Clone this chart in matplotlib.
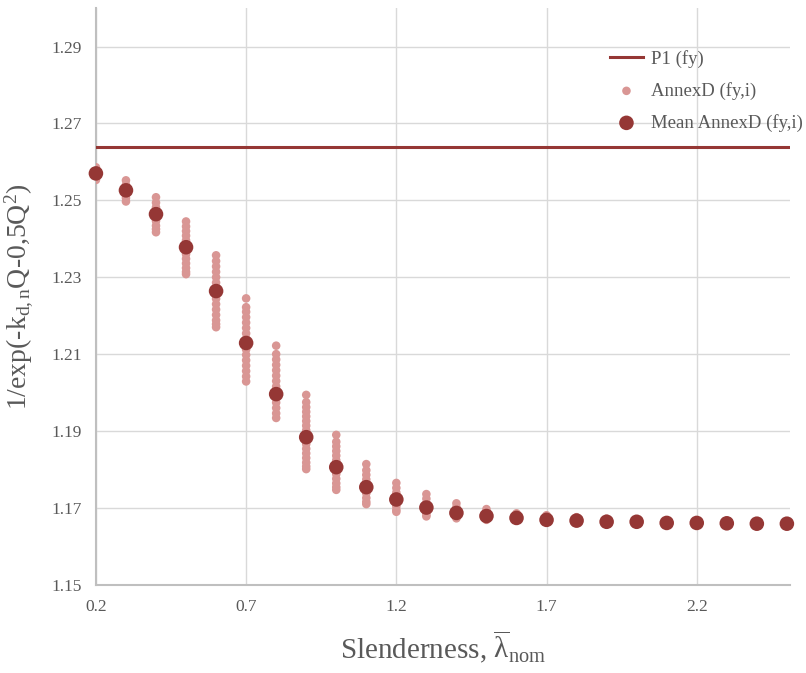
import matplotlib
matplotlib.use("Agg")
import matplotlib.pyplot as plt

plt.rcParams["font.family"] = ["Liberation Serif", "DejaVu Serif"]
plt.rcParams["mathtext.fontset"] = "custom"
plt.rcParams["mathtext.rm"] = "Liberation Serif"
plt.rcParams["mathtext.it"] = "Liberation Serif:italic"

# slenderness values
slenderness = [0.2, 0.3, 0.4, 0.5, 0.6, 0.7, 0.8, 0.9, 1.0, 1.1, 1.2, 1.3,
               1.4, 1.5, 1.6, 1.7, 1.8, 1.9, 2.0, 2.1, 2.2, 2.3, 2.4, 2.5]

# P1 (fy) constant level
p1_value = 1.2638

# AnnexD (fy,i) values, one list per slenderness
annex_vals = [
    [1.2586, 1.2580, 1.2574, 1.2568, 1.2562, 1.2557, 1.2553],
    [1.2552, 1.2540, 1.2530, 1.2522, 1.2514, 1.2506, 1.2497],
    [1.2508, 1.2494, 1.2482, 1.2470, 1.2458, 1.2446, 1.2434, 1.2425, 1.2417],
    [1.2445, 1.2432, 1.2420, 1.2408, 1.2396, 1.2384, 1.2372, 1.2360, 1.2348,
     1.2336, 1.2324, 1.2314, 1.2308],
    [1.2357, 1.2342, 1.2328, 1.2314, 1.2300, 1.2286, 1.2272, 1.2258, 1.2244,
     1.2230, 1.2216, 1.2202, 1.2188, 1.2178, 1.2170],
    [1.2245, 1.2222, 1.2210, 1.2196, 1.2182, 1.2168, 1.2154, 1.2140, 1.2126,
     1.2112, 1.2098, 1.2084, 1.2070, 1.2056, 1.2042, 1.2029],
    [1.2122, 1.2100, 1.2086, 1.2072, 1.2058, 1.2044, 1.2030, 1.2016, 1.2002,
     1.1988, 1.1974, 1.1960, 1.1946, 1.1934],
    [1.1994, 1.1975, 1.1962, 1.1950, 1.1938, 1.1926, 1.1914, 1.1902, 1.1890,
     1.1878, 1.1866, 1.1854, 1.1842, 1.1830, 1.1818, 1.1808, 1.1801],
    [1.1890, 1.1872, 1.1860, 1.1848, 1.1836, 1.1824, 1.1812, 1.1800, 1.1788,
     1.1776, 1.1764, 1.1754, 1.1747],
    [1.1814, 1.1798, 1.1786, 1.1774, 1.1762, 1.1750, 1.1738, 1.1726, 1.1716, 1.1710],
    [1.1765, 1.1752, 1.1740, 1.1728, 1.1716, 1.1704, 1.1695, 1.1690],
    [1.1736, 1.1724, 1.1712, 1.1700, 1.1690, 1.1682, 1.1678],
    [1.1712, 1.1702, 1.1692, 1.1684, 1.1678, 1.1673],
    [1.1697, 1.1688, 1.1680, 1.1674, 1.1669],
    [1.1686, 1.1679, 1.1673, 1.1667],
    [1.1681, 1.1675, 1.1670, 1.1666],
    [1.1676, 1.1671, 1.1666, 1.1664],
    [1.1672, 1.1668, 1.1664, 1.1662],
    [1.1670, 1.1666, 1.1662],
    [1.1668, 1.1664, 1.1660],
    [1.1667, 1.1663, 1.1659],
    [1.1666, 1.1662, 1.1659],
    [1.1665, 1.1661, 1.1658],
    [1.1664, 1.1660, 1.1657],
]

# Mean AnnexD (fy,i)
mean_vals = [1.2570, 1.2526, 1.2464, 1.2378, 1.2264, 1.2129, 1.1996, 1.1884,
             1.1806, 1.1754, 1.1722, 1.1701, 1.1687, 1.1679, 1.1674, 1.1669,
             1.1667, 1.1664, 1.1664, 1.1661, 1.1661, 1.1660, 1.1659, 1.1659]

y_ticks = [1.15, 1.17, 1.19, 1.21, 1.23, 1.25, 1.27, 1.29]
x_ticks = [0.2, 0.7, 1.2, 1.7, 2.2]

light = "#D99694"
dark = "#953735"
grey = "#595959"

fig = plt.figure(figsize=(8.06, 6.73), dpi=100)
ax = fig.add_axes([0.119, 0.131, 0.861, 0.857])

ax.axhline(p1_value, color=dark, lw=2.2, label="P1 (fy)", zorder=3)

ax_x, ax_y = [], []
for s, vals in zip(slenderness, annex_vals):
    ax_x += [s] * len(vals)
    ax_y += vals
ax.scatter(ax_x, ax_y, s=38, color=light, edgecolors="none",
           label="AnnexD (fy,i)", zorder=4)
ax.scatter(slenderness, mean_vals, s=110, color=dark, edgecolors="none",
           label="Mean AnnexD (fy,i)", zorder=5, clip_on=False)

ax.set_xlim(0.2, 2.51)
ax.set_ylim(1.15, 1.30)
ax.set_xticks(x_ticks)
ax.set_xticklabels([f"{v:.1f}" for v in x_ticks])
ax.set_yticks(y_ticks)
ax.set_yticklabels([f"{v:.2f}" for v in y_ticks])
ax.tick_params(length=0, labelsize=12.5, labelcolor=grey, pad=10)

ax.grid(True, color="#D9D9D9", lw=1)
ax.set_axisbelow(True)
for side in ["top", "right"]:
    ax.spines[side].set_visible(False)
for side in ["left", "bottom"]:
    ax.spines[side].set_color("#BFBFBF")
    ax.spines[side].set_linewidth(1.5)

ax.set_xlabel(r"Slenderness, $\overline{\mathrm{\lambda}}_{\mathrm{nom}}$",
              fontsize=21, color=grey, labelpad=10)
ax.set_ylabel(r"1/exp(-k$_{\mathrm{d,n}}$Q-0,5Q$^{2}$)",
              fontsize=20, color=grey, labelpad=12)

leg = ax.legend(loc="upper left", bbox_to_anchor=(0.747, 0.937),
                bbox_transform=fig.transFigure, frameon=False, fontsize=13.5,
                handlelength=1.8, handletextpad=0.4, labelspacing=0.75,
                borderaxespad=0)
for t in leg.get_texts():
    t.set_color(grey)

fig.savefig("out.png", dpi=100)
